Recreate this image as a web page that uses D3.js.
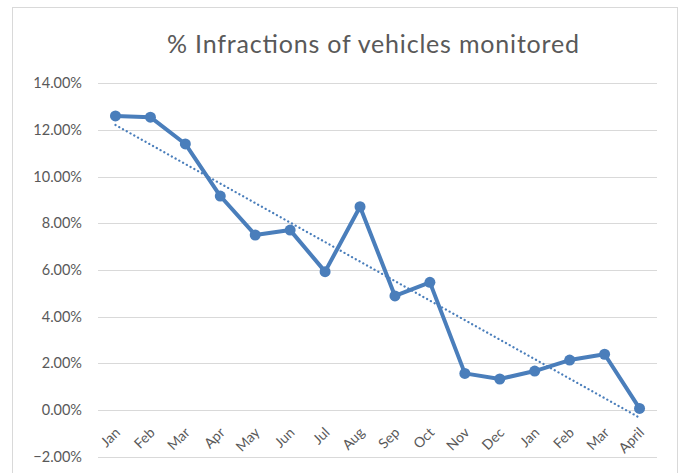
<!DOCTYPE html>
<html>
<head>
<meta charset="utf-8">
<script src="https://cdn.jsdelivr.net/npm/d3@7"></script>
<style>
body { margin: 0; background: #fff; }
svg { display: block; }
</style>
</head>
<body>
<svg width="679" height="473"></svg>
<script>
const svg = d3.select("svg");

// data
var months = ["Jan","Feb","Mar","Apr","May","Jun","Jul","Aug","Sep","Oct","Nov","Dec","Jan","Feb","Mar","April"];
var infractions = [12.6, 12.55, 11.4, 9.17, 7.5, 7.71, 5.93, 8.71, 4.89, 5.47, 1.57, 1.33, 1.67, 2.14, 2.39, 0.07];
var yTicks = [-2, 0, 2, 4, 6, 8, 10, 12, 14];

var plotL = 98, plotR = 657, plotT = 83.3, plotB = 456.7;
var blue = "#4a7ebb";
var font = "Lato, 'Open Sans', sans-serif";

// chart area border
svg.append("rect")
  .attr("x", 12.5).attr("y", 7.5)
  .attr("width", 665).attr("height", 470)
  .attr("fill", "none")
  .attr("stroke", "#d9d9d9");

var x = d3.scalePoint()
  .domain(d3.range(months.length))
  .range([plotL, plotR])
  .padding(0.5);

var y = d3.scaleLinear()
  .domain([-2, 14])
  .range([plotB, plotT]);

// gridlines
svg.append("g").selectAll("line")
  .data(yTicks)
  .join("line")
  .attr("x1", plotL).attr("x2", plotR)
  .attr("y1", d => Math.round(y(d)) + 0.5)
  .attr("y2", d => Math.round(y(d)) + 0.5)
  .attr("stroke", "#d9d9d9")
  .attr("stroke-width", 1);

// y labels
svg.append("g").selectAll("text")
  .data(yTicks)
  .join("text")
  .attr("x", 82)
  .attr("y", d => y(d))
  .attr("dy", "0.35em")
  .attr("text-anchor", "end")
  .attr("font-family", font)
  .attr("font-size", 14.5)
  .attr("fill", "#595959")
  .text(d => d3.format(".2f")(d) + "%");

// x labels, rotated
svg.append("g").selectAll("text")
  .data(months)
  .join("text")
  .attr("transform", (d, i) => "translate(" + (x(i) + 2) + "," + 430 + ") rotate(-45)")
  .attr("text-anchor", "end")
  .attr("dy", "0.35em")
  .attr("font-family", font)
  .attr("font-size", 14)
  .attr("fill", "#595959")
  .text(d => d);

// linear trendline (least squares on the series)
var idx = d3.range(infractions.length);
var mx = d3.mean(idx), my = d3.mean(infractions);
var slope = d3.sum(idx, i => (i - mx) * (infractions[i] - my)) / d3.sum(idx, i => (i - mx) * (i - mx));
var icpt = my - slope * mx;
var ends = [0, infractions.length - 1];
svg.append("line")
  .attr("x1", x(ends[0])).attr("y1", y(icpt + slope * ends[0]))
  .attr("x2", x(ends[1])).attr("y2", y(icpt + slope * ends[1]))
  .attr("stroke", blue)
  .attr("stroke-width", 2.25)
  .attr("stroke-linecap", "round")
  .attr("stroke-dasharray", "0.1,4.2");

// series line
var line = d3.line()
  .x((d, i) => x(i))
  .y(d => y(d));

svg.append("path")
  .datum(infractions)
  .attr("d", line)
  .attr("fill", "none")
  .attr("stroke", blue)
  .attr("stroke-width", 4)
  .attr("stroke-linejoin", "round");

svg.append("g").selectAll("circle")
  .data(infractions)
  .join("circle")
  .attr("cx", (d, i) => x(i))
  .attr("cy", d => y(d))
  .attr("r", 5.5)
  .attr("fill", blue);

// title
svg.append("text")
  .attr("x", 373)
  .attr("y", 53)
  .attr("text-anchor", "middle")
  .attr("font-family", font)
  .attr("font-size", 25)
  .attr("fill", "#595959")
  .attr("textLength", 412)
  .attr("lengthAdjust", "spacing")
  .text("% Infractions of vehicles monitored");
</script>
</body>
</html>
